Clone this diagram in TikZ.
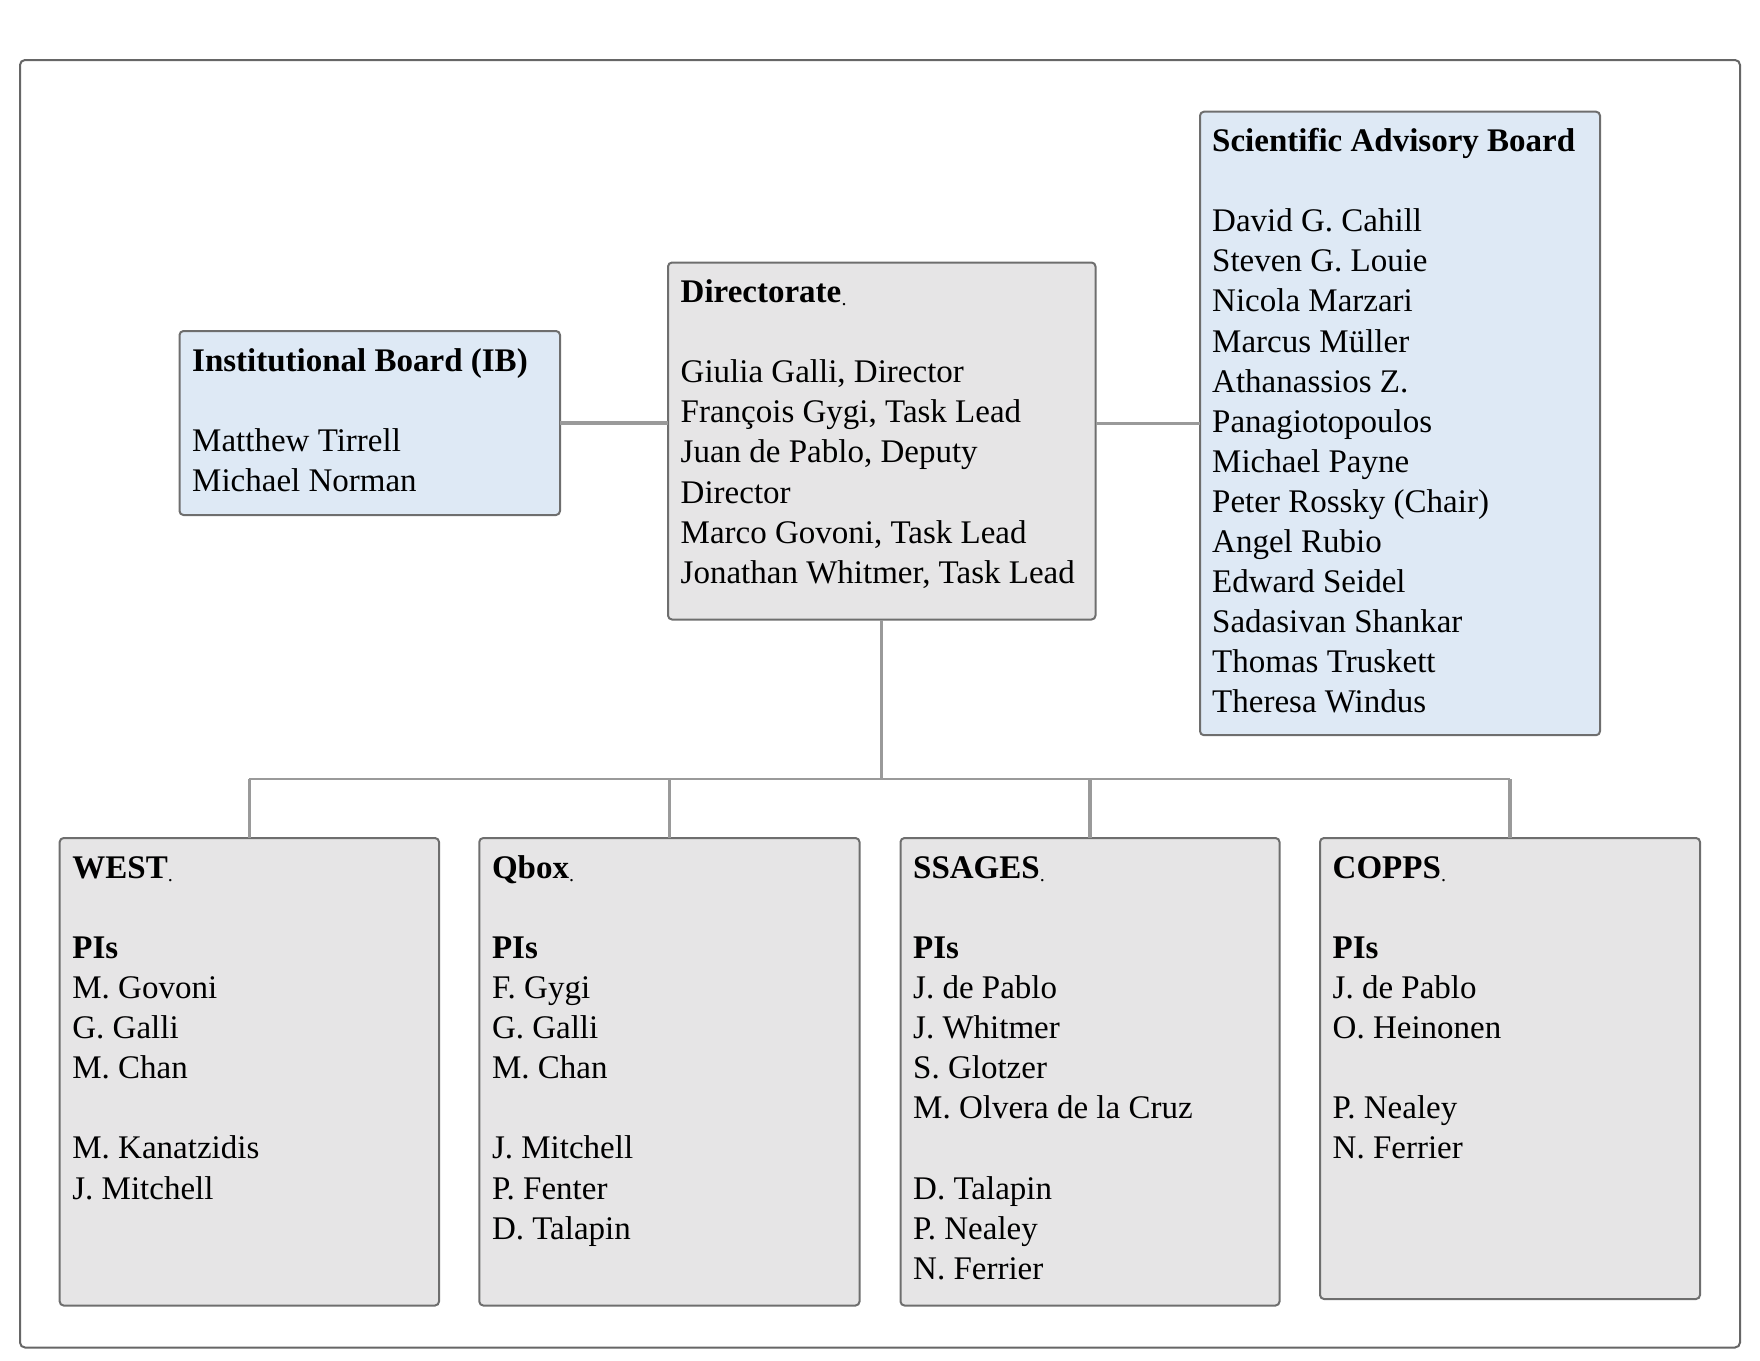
\documentclass[tikz,border=0pt]{standalone}
\usepackage{fontspec}
\setmainfont{Liberation Serif}
\usetikzlibrary{fit}
\definecolor{boxblue}{HTML}{DEE9F5}
\definecolor{boxgray}{HTML}{E6E5E6}
\definecolor{boxline}{HTML}{6E6E6E}
\definecolor{frameline}{HTML}{666666}
\definecolor{connline}{HTML}{9A9A9A}
\newcommand{\tdot}{\hspace{0.1pt}\raisebox{-1.6pt}{\fontsize{10}{10}\selectfont.}}
\begin{document}
\begin{tikzpicture}[x=0.5pt,y=-0.5pt,
  orgbox/.style={draw=boxline, line width=1pt, rounded corners=2pt, inner sep=0pt, outer sep=0pt},
  bluebox/.style={orgbox, fill=boxblue},
  graybox/.style={orgbox, fill=boxgray},
  boxtext/.style={anchor=base west, inner sep=0pt, font=\fontsize{16.5}{20.05}\selectfont},
  conn/.style={draw=connline, line width=1.6pt},
]
\useasboundingbox (0,0) rectangle (1760,1360);
% outer frame
\draw[frameline, line width=1pt, rounded corners=2.5pt] (20,60) rectangle (1740,1347.5);

% boxes
\node[bluebox, fit={(179.5,331) (560,515)}] (IB) {};
\node[graybox, fit={(668,262.5) (1095.5,619.5)}] (DIR) {};
\node[bluebox, fit={(1200,111.7) (1600,735.2)}] (SAB) {};
\node[graybox, fit={(59.7,838) (439,1305.5)}] (WEST) {};
\node[graybox, fit={(479.3,838) (859.5,1305.5)}] (QBOX) {};
\node[graybox, fit={(900.5,838) (1279.5,1305.5)}] (SSAGES) {};
\node[graybox, fit={(1320,838) (1700,1299)}] (COPPS) {};

% texts
\node[boxtext] (tIB) at (191.8,371) {\parbox[t]{400pt}{\raggedright
  \textbf{Institutional Board (IB)}\\ \mbox{}\\ Matthew Tirrell\\ Michael Norman}};
\node[boxtext] (tDIR) at (680.3,302.5) {\parbox[t]{400pt}{\raggedright
  \textbf{Directorate}\tdot\\ \mbox{}\\ Giulia Galli, Director\\ François Gygi, Task Lead\\
  Juan de Pablo, Deputy\\ Director\\ Marco Govoni, Task Lead\\ Jonathan Whitmer, Task Lead}};
\node[boxtext] (tSAB) at (1211.8,151.5) {\parbox[t]{400pt}{\raggedright
  \textbf{Scientific Advisory Board}\\ \mbox{}\\ David G. Cahill\\ Steven G. Louie\\
  Nicola Marzari\\ Marcus Müller\\ Athanassios Z.\\ Panagiotopoulos\\ Michael Payne\\
  Peter Rossky (Chair)\\ Angel Rubio\\ Edward Seidel\\ Sadasivan Shankar\\
  Thomas Truskett\\ Theresa Windus}};
\node[boxtext] (tWEST) at (72,878.2) {\parbox[t]{400pt}{\raggedright
  \textbf{WEST}\tdot\\ \mbox{}\\ \textbf{PIs}\\ M. Govoni\\ G. Galli\\ M. Chan\\ \mbox{}\\
  M. Kanatzidis\\ J. Mitchell}};
\node[boxtext] (tQBOX) at (491.6,878.2) {\parbox[t]{400pt}{\raggedright
  \textbf{Qbox}\tdot\\ \mbox{}\\ \textbf{PIs}\\ F. Gygi\\ G. Galli\\ M. Chan\\ \mbox{}\\
  J. Mitchell\\ P. Fenter\\ D. Talapin}};
\node[boxtext] (tSSAGES) at (912.8,878.2) {\parbox[t]{400pt}{\raggedright
  \textbf{SSAGES}\tdot\\ \mbox{}\\ \textbf{PIs}\\ J. de Pablo\\ J. Whitmer\\ S. Glotzer\\
  M. Olvera de la Cruz\\ \mbox{}\\ D. Talapin\\ P. Nealey\\ N. Ferrier}};
\node[boxtext] (tCOPPS) at (1332.3,878.2) {\parbox[t]{400pt}{\raggedright
  \textbf{COPPS}\tdot\\ \mbox{}\\ \textbf{PIs}\\ J. de Pablo\\ O. Heinonen\\ \mbox{}\\
  P. Nealey\\ N. Ferrier}};

% connectors
\coordinate (junction) at (881.75,779);
\draw[conn] (IB.east) -- (IB.east -| DIR.west);
\draw[conn] (SAB.west) -- (SAB.west -| DIR.east);
\draw[conn] (DIR.south) -- (junction);
\draw[conn, line width=1.2pt] (WEST.north |- junction) -- (COPPS.north |- junction);
\draw[conn] (WEST.north |- junction) -- (WEST.north);
\draw[conn] (QBOX.north |- junction) -- (QBOX.north);
\draw[conn] (SSAGES.north |- junction) -- (SSAGES.north);
\draw[conn] (COPPS.north |- junction) -- (COPPS.north);
\end{tikzpicture}
\end{document}
